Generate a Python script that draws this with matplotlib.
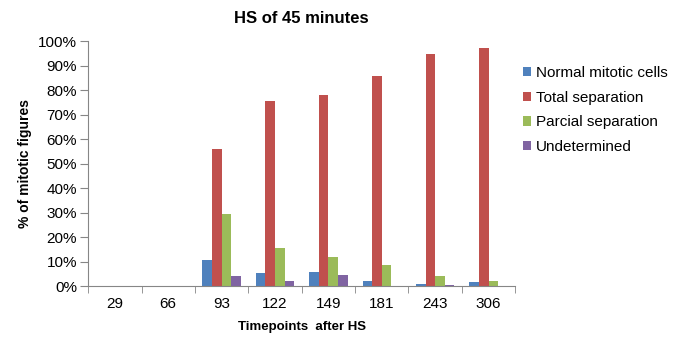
import numpy as np
import matplotlib
matplotlib.use("Agg")
import matplotlib.pyplot as plt
from matplotlib.ticker import PercentFormatter

plt.rcParams['font.family'] = ['Liberation Sans', 'DejaVu Sans']

timepoints = ['29', '66', '93', '122', '149', '181', '243', '306']
normal = [0, 0, 10.9, 5.6, 6.0, 2.0, 1.1, 1.6]
total_sep = [0, 0, 56.2, 75.8, 78.0, 86.0, 94.8, 97.1]
parcial_sep = [0, 0, 29.5, 15.6, 12.0, 8.8, 4.2, 2.0]
undetermined = [0, 0, 4.2, 2.0, 4.6, 0, 0.7, 0]

series = [
    ('Normal mitotic cells', normal, '#4F81BD'),
    ('Total separation', total_sep, '#C0504D'),
    ('Parcial separation', parcial_sep, '#9BBB59'),
    ('Undetermined', undetermined, '#8064A2'),
]

fig = plt.figure(figsize=(6.78, 3.38), dpi=100)
ax = fig.add_axes([0.13, 0.153, 0.63, 0.725])

x = np.arange(len(timepoints))
w = 0.18
for i, (name, vals, col) in enumerate(series):
    ax.bar(x + (i - 1.5) * w, vals, w, color=col, label=name, edgecolor='none')

ax.set_xlim(-0.5, len(timepoints) - 0.5)
ax.set_ylim(0, 100)
ax.set_yticks(np.arange(0, 101, 10))
ax.yaxis.set_major_formatter(PercentFormatter(decimals=0))
ax.set_xticks(x)
ax.set_xticklabels(timepoints)
ax.set_xticks(np.arange(-0.5, len(timepoints)), minor=True)
ax.tick_params(axis='x', which='major', length=0, pad=8, labelsize=11)
ax.tick_params(axis='x', which='minor', length=5, color='#868686', direction='out')
ax.tick_params(axis='y', length=6, color='#868686', labelsize=11, pad=2)

for s in ['top', 'right']:
    ax.spines[s].set_visible(False)
for s in ['left', 'bottom']:
    ax.spines[s].set_color('#868686')

ax.set_title('HS of 45 minutes', fontsize=12, fontweight='bold', pad=13)
ax.set_xlabel('Timepoints  after HS', fontsize=9.5, fontweight='bold', labelpad=7)
ax.set_ylabel('% of mitotic figures', fontsize=10, fontweight='bold', labelpad=4)

ax.legend(loc='upper left', bbox_to_anchor=(0.985, 0.955), frameon=False,
          fontsize=11, handlelength=0.55, handleheight=0.55, handletextpad=0.3,
          labelspacing=0.7)

fig.savefig('out.png', dpi=100)
